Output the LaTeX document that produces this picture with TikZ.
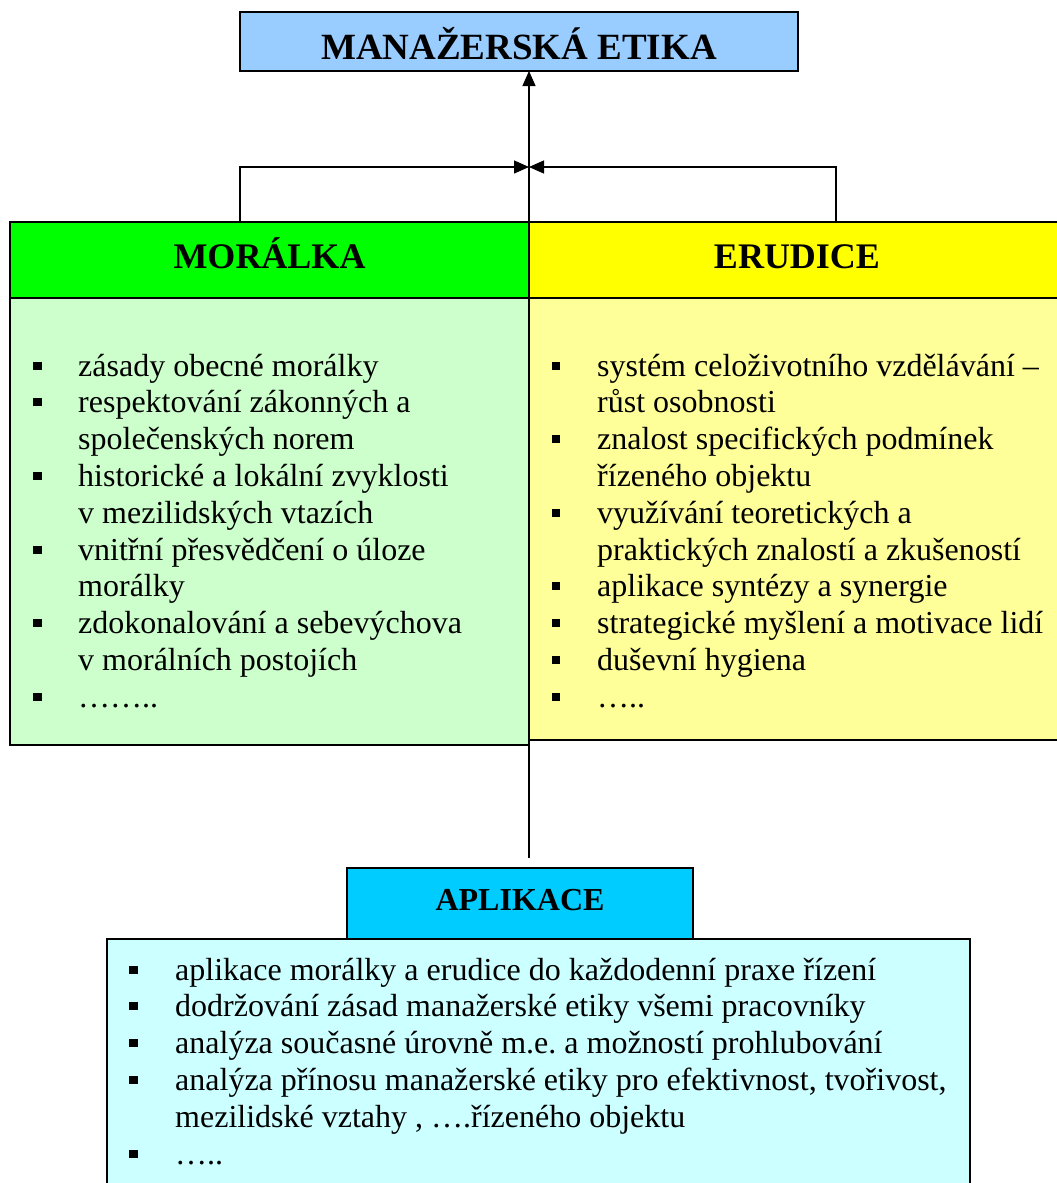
\documentclass[tikz,border=0pt]{standalone}
\usepackage{fontspec}
\setmainfont{Liberation Serif}
\usetikzlibrary{arrows.meta}
\frenchspacing
\definecolor{cTop}{HTML}{99CCFF}
\definecolor{cMorH}{HTML}{00FF00}
\definecolor{cErH}{HTML}{FFFF00}
\definecolor{cMorB}{HTML}{CCFFCC}
\definecolor{cErB}{HTML}{FFFF99}
\definecolor{cApH}{HTML}{00CCFF}
\definecolor{cApB}{HTML}{CCFFFF}
\begin{document}
\begin{tikzpicture}[x=1pt,y=-1pt,
  box/.style={draw=black,line width=1.6pt,inner sep=0pt,outer sep=0pt,anchor=north west},
  conn/.style={line width=1.3pt},
  tipped/.style={-{Triangle[length=15pt,width=13pt]}},
  head/.style={font=\fontsize{36}{40}\selectfont\bfseries,anchor=base,inner sep=0pt},
  txt/.style={font=\fontsize{32}{36.8}\selectfont\frenchspacing,anchor=base west,inner sep=0pt},
  bul/.style={fill=black,inner sep=0pt,minimum width=8.5pt,minimum height=8pt}]
\useasboundingbox (0,0) rectangle (1057,1183);
\clip (0,0) rectangle (1057,1183);

% boxes
\node[box,fill=cTop,minimum width=558pt,minimum height=59pt] (top) at (240,12) {};
\node[box,fill=cMorB,minimum width=519pt,minimum height=447pt] (morb) at (10,298) {};
\node[box,fill=cErB,minimum width=540pt,minimum height=442pt] (erb) at (529,298) {};
\node[box,fill=cMorH,minimum width=519pt,minimum height=76pt] (morh) at (10,222) {};
\node[box,fill=cErH,minimum width=540pt,minimum height=76pt] (erh) at (529,222) {};
\node[box,fill=cApB,minimum width=863pt,minimum height=260pt] (apb) at (107,939) {};
\node[box,fill=cApH,minimum width=346pt,minimum height=71pt] (aph) at (347,868) {};

% titles
\node[head,font=\fontsize{37}{40}\selectfont\bfseries] (toptxt) at (519,59) {MANAŽERSKÁ ETIKA};
\node[head] (mortxt) at (269.5,268) {MORÁLKA};
\node[head] (ertxt) at (797,268) {ERUDICE};
\node[head,font=\fontsize{32}{36}\selectfont\bfseries] (aptxt) at (520,910) {APLIKACE};

% connectors
\coordinate (J) at (529,167);
\coordinate (ml) at (240,222);
\coordinate (el) at (836,222);
\coordinate (bend) at (529,858);
\draw[conn,tipped] (erh.north west) -- (erh.north west |- top.south);
\draw[conn,tipped] (ml) |- (J);
\draw[conn,tipped] (el) |- (J);
\draw[conn] (erb.south west) -- (bend);

% Moralka list
\foreach \b/\t [count=\i from 0] in {
  1/zásady obecné morálky,
  1/respektování zákonných a,
  0/společenských norem,
  1/historické a lokální zvyklosti,
  0/v mezilidských vtazích,
  1/vnitřní přesvědčení o úloze,
  0/morálky,
  1/zdokonalování a sebevýchova,
  0/v morálních postojích,
  1/……..}{
  \node[txt] (mt\i) at (78,{376+36.8*\i}) {\t};
  \ifnum\b=1 \node[bul] (mbu\i) at (37.5,{365.5+36.8*\i}) {};\fi
}

% Erudice list
\foreach \b/\t [count=\i from 0] in {
  1/systém celoživotního vzdělávání –,
  0/růst osobnosti,
  1/znalost specifických podmínek,
  0/řízeného objektu,
  1/využívání teoretických a,
  0/praktických znalostí a zkušeností,
  1/aplikace syntézy a synergie,
  1/strategické myšlení a motivace lidí,
  1/duševní hygiena,
  1/…..}{
  \node[txt] (et\i) at (597,{376+36.8*\i}) {\t};
  \ifnum\b=1 \node[bul] (ebu\i) at (556,{365.5+36.8*\i}) {};\fi
}

% Aplikace list
\foreach \b/\t [count=\i from 0] in {
  1/aplikace morálky a erudice do každodenní praxe řízení,
  1/dodržování zásad manažerské etiky všemi pracovníky,
  1/analýza současné úrovně m.e. a možností prohlubování,
  1/{analýza přínosu manažerské etiky pro efektivnost, tvořivost,},
  0/{mezilidské vztahy , ….řízeného objektu},
  1/…..}{
  \node[txt] (at\i) at (175,{980+36.8*\i}) {\t};
  \ifnum\b=1 \node[bul] (abu\i) at (133.5,{969.5+36.8*\i}) {};\fi
}
\end{tikzpicture}
\end{document}
